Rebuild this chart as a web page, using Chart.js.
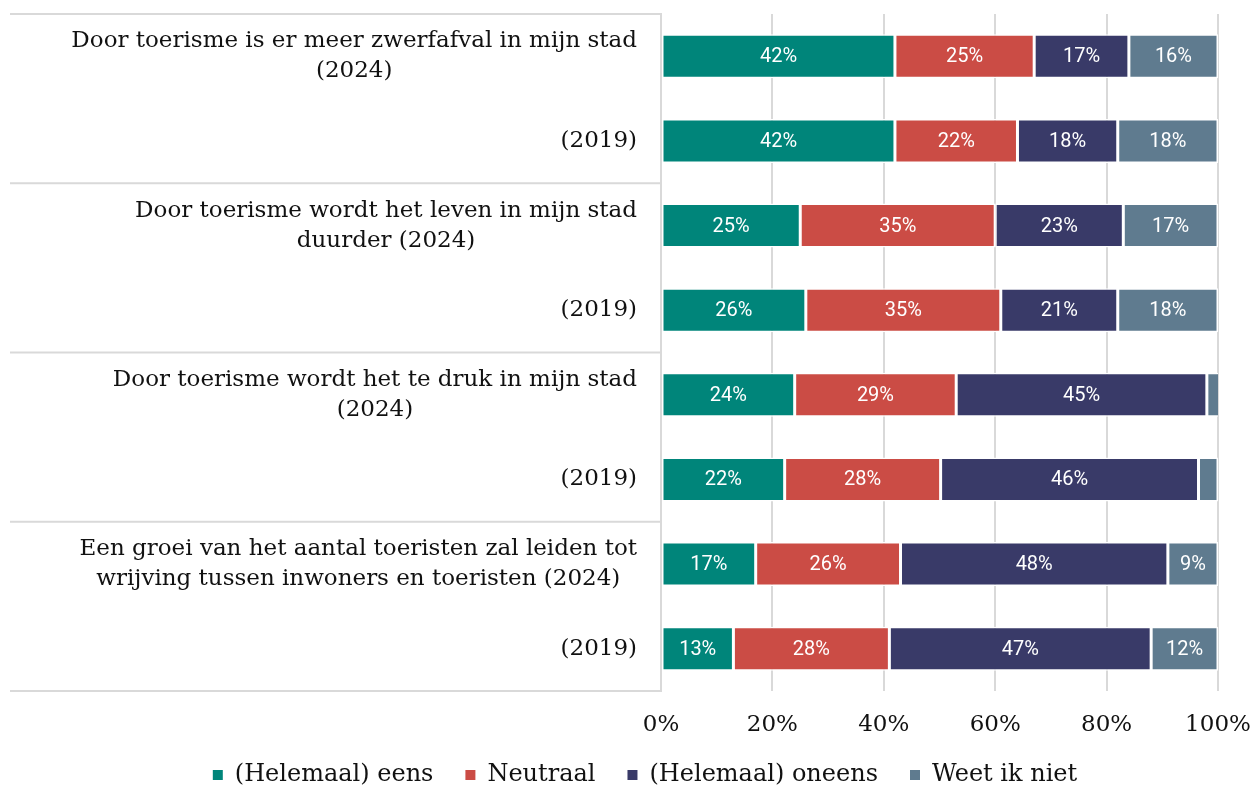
<!DOCTYPE html>
<html>
<head>
<meta charset="utf-8">
<script src="https://cdn.jsdelivr.net/npm/chart.js@4"></script>
<style>
  body { margin: 0; background: #fff; }
  #wrap { width: 1254px; height: 788px; position: relative; }
</style>
</head>
<body>
<div id="wrap"><canvas id="chart"></canvas></div>
<script>
// categories (multi-line labels for the 2024 rows)
const categories = [
    ['Door toerisme is er meer zwerfafval in mijn stad', '(2024)'],
    '(2019)',
    ['Door toerisme wordt het leven in mijn stad', 'duurder (2024)'],
    '(2019)',
    ['Door toerisme wordt het te druk in mijn stad', '(2024)'],
    '(2019)',
    ['Een groei van het aantal toeristen zal leiden tot', 'wrijving tussen inwoners en toeristen (2024)'],
    '(2019)'
];

const seriesNames = ['(Helemaal) eens', 'Neutraal', '(Helemaal) oneens', 'Weet ik niet'];
const eens    = [42, 42, 25, 26, 24, 22.2, 17, 13];
const neutraal = [25, 22, 35, 35, 29, 28, 26, 28];
const oneens  = [17, 18, 23, 21, 45, 46.3, 48, 47];
const weetNiet = [16, 18, 17, 18, 2.5, 3.5, 9, 12];

const xTicks = [0, 20, 40, 60, 80, 100];

const colors = ['#00857a', '#cb4c45', '#393a68', '#5f7b8f'];
const serif = '"DejaVu Serif", serif';

// white % labels inside the bars
const barLabels = {
    id: 'barLabels',
    afterDatasetsDraw(chart) {
        const ctx = chart.ctx;
        ctx.save();
        ctx.fillStyle = '#ffffff';
        ctx.font = '20px Roboto';
        ctx.textAlign = 'center';
        ctx.textBaseline = 'middle';
        chart.data.datasets.forEach((ds, i) => {
            chart.getDatasetMeta(i).data.forEach((bar, j) => {
                const v = ds.data[j];
                if (v < 5) return;
                ctx.fillText(Math.round(v) + '%', (bar.x + bar.base) / 2, bar.y + 1);
            });
        });
        ctx.restore();
    }
};

// category labels + group separator lines on the left
const leftLabels = {
    id: 'leftLabels',
    afterDraw(chart) {
        const ctx = chart.ctx;
        const y = chart.scales.y;
        const area = chart.chartArea;
        ctx.save();
        ctx.strokeStyle = '#d9d9d9';
        ctx.lineWidth = 2;
        for (let i = 0; i <= categories.length; i += 2) {
            let yy;
            if (i === 0) yy = area.top;
            else if (i === categories.length) yy = area.bottom;
            else yy = (y.getPixelForValue(i - 1) + y.getPixelForValue(i)) / 2;
            ctx.beginPath();
            ctx.moveTo(10, yy);
            ctx.lineTo(area.left, yy);
            ctx.stroke();
        }
        ctx.font = '23px ' + serif;
        ctx.fillStyle = '#111';
        ctx.textAlign = 'center';
        ctx.textBaseline = 'middle';
        const right = area.left - 24;
        const lh = 30;
        categories.forEach((lab, i) => {
            const lines = Array.isArray(lab) ? lab : [lab];
            const w = Math.max(...lines.map(l => ctx.measureText(l).width));
            const cx = right - w / 2;
            const cy = y.getPixelForValue(i);
            lines.forEach((l, k) => {
                ctx.fillText(l, cx, cy + (k - (lines.length - 1) / 2) * lh);
            });
        });
        ctx.restore();
    }
};

const ctx = document.getElementById('chart').getContext('2d');
new Chart(ctx, {
    type: 'bar',
    data: {
        labels: categories,
        datasets: [eens, neutraal, oneens, weetNiet].map((d, i) => ({
            label: seriesNames[i],
            data: d,
            backgroundColor: colors[i],
            borderColor: '#ffffff',
            borderWidth: 1.5,
            borderSkipped: false,
            barPercentage: 0.52,
            categoryPercentage: 1
        }))
    },
    options: {
        indexAxis: 'y',
        responsive: true,
        maintainAspectRatio: false,
        animation: false,
        layout: { padding: { top: 14, right: 0, bottom: 0, left: 36 } },
        scales: {
            x: {
                stacked: true,
                min: 0,
                max: 100,
                afterBuildTicks: scale => { scale.ticks = xTicks.map(v => ({ value: v })); },
                afterFit: scale => {
                    scale.height = 40;
                    scale.paddingRight = 36;
                    scale.paddingLeft = 0;
                },
                ticks: {
                    callback: v => v + '%',
                    font: { family: serif, size: 23 },
                    color: '#111',
                    padding: 20
                },
                grid: { color: '#d9d9d9', lineWidth: 2, drawTicks: false },
                border: { display: false }
            },
            y: {
                stacked: true,
                afterFit: scale => { scale.width = 625; },
                ticks: { display: false },
                grid: { display: false, drawTicks: false },
                border: { display: true, color: '#d9d9d9', width: 2 }
            }
        },
        plugins: {
            legend: {
                position: 'bottom',
                maxHeight: 57,
                labels: {
                    font: { family: serif, size: 24 },
                    color: '#111',
                    boxWidth: 10,
                    boxHeight: 10,
                    padding: 32,
                    generateLabels: chart => Chart.defaults.plugins.legend.labels.generateLabels(chart)
                        .map(l => Object.assign(l, { lineWidth: 0, strokeStyle: l.fillStyle }))
                }
            },
            tooltip: { enabled: false }
        }
    },
    plugins: [barLabels, leftLabels]
});
</script>
</body>
</html>
